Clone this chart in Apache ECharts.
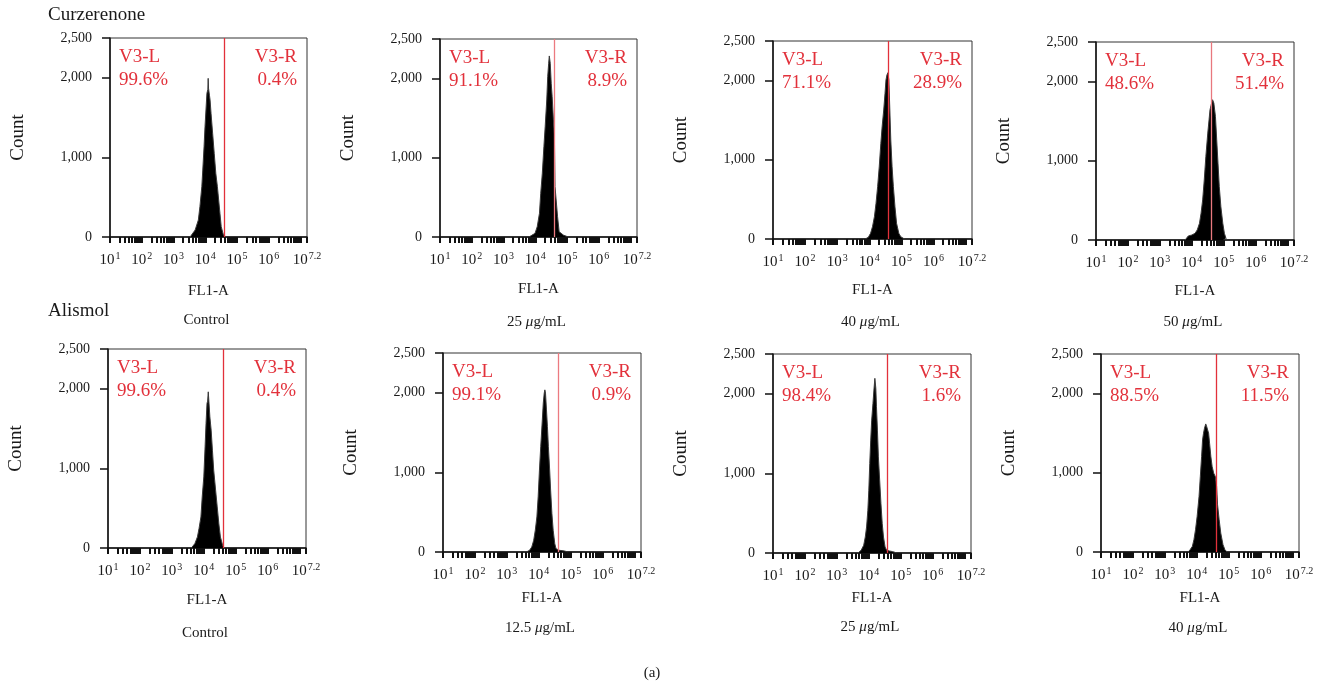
<!DOCTYPE html>
<html>
<head>
<meta charset="utf-8">
<script src="https://cdn.jsdelivr.net/npm/echarts@6/dist/echarts.min.js"></script>
<style>
html,body{margin:0;padding:0;background:#fff;}
#main{width:1320px;height:687px;}
</style>
</head>
<body>
<div id="main"></div>
<script>
// ---------------- data ----------------
const rowLabels = ['Curzerenone', 'Alismol'];
const conditions = ['Control', '25 μg/mL', '40 μg/mL', '50 μg/mL', 'Control', '12.5 μg/mL', '25 μg/mL', '40 μg/mL'];
const leftGateName = 'V3-L';
const rightGateName = 'V3-R';
const leftPct = ['99.6%', '91.1%', '71.1%', '48.6%', '99.6%', '99.1%', '98.4%', '88.5%'];
const rightPct = ['0.4%', '8.9%', '28.9%', '51.4%', '0.4%', '0.9%', '1.6%', '11.5%'];
const gateLog = [4.60, 4.59, 4.58, 4.62, 4.62, 4.60, 4.58, 4.61];   // log10(FL1-A) of gate
const xExpValues = [1, 2, 3, 4, 5, 6, 7.2];
const xExpLabels = ['1', '2', '3', '4', '5', '6', '7.2'];
const yTickValues = [0, 1000, 2000, 2500];
const yTickLabels = ['0', '1,000', '2,000', '2,500'];
const xTitle = 'FL1-A';
const yTitle = 'Count';
const figLabel = '(a)';

// histograms: [log10(FL1-A), count]
const histCurzCtrl = [[3.52,0],[3.55,12],[3.68,88],[3.78,213],[3.83,381],[3.89,632],[3.92,841],[3.96,1134],[3.99,1385],[4.02,1595],[4.05,1805],[4.08,1855],[4.09,1993],[4.10,1870],[4.13,1780],[4.15,1720],[4.18,1553],[4.23,1302],[4.28,1051],[4.33,800],[4.38,632],[4.42,465],[4.46,298],[4.50,130],[4.57,25],[4.62,4],[4.66,0]];
const histCurz25 = [[3.80,0],[3.83,4],[3.99,46],[4.06,130],[4.13,299],[4.17,552],[4.22,805],[4.27,1141],[4.31,1394],[4.36,1730],[4.39,2025],[4.42,2193],[4.44,2286],[4.47,2193],[4.50,1941],[4.53,1772],[4.57,1478],[4.60,1300],[4.62,636],[4.67,615],[4.70,257],[4.75,67],[4.88,25],[5.01,4],[5.05,0]];
const histCurz40 = [[3.87,0],[3.97,21],[4.04,72],[4.10,156],[4.16,282],[4.21,451],[4.26,661],[4.31,913],[4.36,1208],[4.40,1418],[4.45,1629],[4.49,1840],[4.52,2008],[4.55,2071],[4.58,2100],[4.61,2008],[4.64,1629],[4.67,1250],[4.71,913],[4.75,661],[4.80,408],[4.85,198],[4.92,72],[4.98,29],[5.08,4],[5.12,0]];
const histCurz50 = [[3.79,0],[3.89,51],[4.00,63],[4.10,84],[4.17,127],[4.24,211],[4.29,338],[4.34,506],[4.39,759],[4.44,1054],[4.50,1350],[4.54,1518],[4.57,1645],[4.62,1729],[4.65,1771],[4.69,1729],[4.74,1560],[4.78,1265],[4.82,970],[4.86,674],[4.91,421],[4.97,211],[5.02,84],[5.07,21],[5.11,0]];
const histAlisCtrl = [[3.61,0],[3.72,55],[3.80,139],[3.85,244],[3.91,390],[3.95,642],[4.00,893],[4.04,1271],[4.07,1565],[4.10,1817],[4.12,1845],[4.14,1962],[4.16,1837],[4.19,1648],[4.23,1481],[4.27,1229],[4.31,977],[4.37,726],[4.42,516],[4.47,307],[4.52,138],[4.59,34],[4.64,0]];
const histAlis12 = [[3.61,0],[3.71,21],[3.78,63],[3.84,147],[3.89,273],[3.94,441],[3.98,693],[4.02,1029],[4.06,1323],[4.11,1659],[4.14,1870],[4.17,1996],[4.19,2037],[4.21,1996],[4.24,1785],[4.27,1575],[4.30,1323],[4.34,1029],[4.37,777],[4.41,483],[4.45,273],[4.50,105],[4.54,42],[4.65,21],[4.80,13],[4.91,0]];
const histAlis25 = [[3.66,0],[3.76,34],[3.84,97],[3.89,201],[3.93,327],[3.97,537],[4.00,789],[4.03,1124],[4.06,1418],[4.09,1669],[4.13,1879],[4.16,2047],[4.19,2194],[4.22,2068],[4.24,1837],[4.27,1544],[4.30,1208],[4.34,915],[4.38,621],[4.42,370],[4.46,201],[4.51,75],[4.56,34],[4.65,25],[4.75,17],[4.88,0]];
const histAlis40 = [[3.73,0],[3.79,29],[3.86,71],[3.91,155],[3.96,281],[4.01,449],[4.07,701],[4.11,953],[4.15,1205],[4.18,1415],[4.21,1499],[4.24,1562],[4.28,1617],[4.31,1583],[4.34,1604],[4.37,1499],[4.40,1373],[4.44,1205],[4.48,1079],[4.53,995],[4.58,953],[4.62,827],[4.65,596],[4.70,407],[4.75,239],[4.82,92],[4.88,29],[4.95,0]];
const histograms = [histCurzCtrl, histCurz25, histCurz40, histCurz50, histAlisCtrl, histAlis12, histAlis25, histAlis40];

// ---------------- layout ----------------
const grids = [
  {left:110, top:38, width:197, height:199},
  {left:440, top:39, width:197, height:198},
  {left:773, top:41, width:199, height:198},
  {left:1096, top:42, width:198, height:198},
  {left:108, top:349, width:198, height:199},
  {left:443, top:353, width:198, height:199},
  {left:773, top:354, width:198, height:199},
  {left:1101, top:354, width:198, height:198}
];
const xNameGaps = [47, 45, 44, 44, 45, 39, 38, 39];
const captionY = [320, 322, 322, 322, 633, 628, 627, 628];
const rowLabelPos = [[48, 15], [48, 311]];
const gateColors = ['#e2313b', '#ec7a80', '#e2313b', '#e8787e', '#e2313b', '#ec7a80', '#e2313b', '#e2313b'];

const FONT = '"Liberation Serif", "Times New Roman", serif';
const RED = '#e2313b';
const INK = '#1a1a1a';

// minor/major log ticks positions (axis decoration)
const logTicks = [];
for (let d = 1; d <= 7; d++) {
  for (let k = 1; k <= 9; k++) {
    const v = d + Math.log10(k);
    if (v <= 7.2 + 1e-9) logTicks.push(+v.toFixed(4));
  }
}
logTicks.push(7.2);

function xLabelFmt(v) {
  let idx = 0, best = 1e9;
  xExpValues.forEach((e, i) => { const d = Math.abs(e - v); if (d < best) { best = d; idx = i; } });
  return '{b|10}{s|' + xExpLabels[idx] + '}';
}
function yLabelFmt(v) {
  const i = yTickValues.indexOf(v);
  return i >= 0 ? yTickLabels[i] : '';
}

const option = {
  backgroundColor: '#fff',
  animation: false,
  grid: grids.map(g => Object.assign({show: true, borderColor: '#333', borderWidth: 1, backgroundColor: 'transparent', containLabel: false}, g)),
  xAxis: grids.map((g, i) => ({
    type: 'value', gridIndex: i, min: 1, max: 7.2,
    name: xTitle, nameLocation: 'middle', nameGap: xNameGaps[i],
    nameTextStyle: {fontFamily: FONT, fontSize: 15, color: INK},
    axisLine: {show: true, onZero: false, lineStyle: {color: '#111', width: 1.5}},
    axisTick: {show: true, inside: false, length: 6, customValues: logTicks, lineStyle: {color: '#111', width: 2}},
    axisLabel: {
      show: true, margin: 14, customValues: xExpValues, formatter: xLabelFmt,
      rich: {
        b: {fontFamily: FONT, fontSize: 15, color: INK},
        s: {fontFamily: FONT, fontSize: 10, color: INK, padding: [0, 0, 8, 1]}
      }
    },
    splitLine: {show: false}
  })),
  yAxis: grids.map((g, i) => ({
    type: 'value', gridIndex: i, min: 0, max: 2500,
    name: yTitle, nameLocation: 'middle', nameGap: 82,
    nameTextStyle: {fontFamily: FONT, fontSize: 19, color: INK},
    axisLine: {show: true, lineStyle: {color: '#111', width: 1.5}},
    axisTick: {show: true, inside: false, length: 8, customValues: yTickValues, lineStyle: {color: '#111', width: 1.5}},
    axisLabel: {show: true, margin: 18, customValues: yTickValues, formatter: yLabelFmt, fontFamily: FONT, fontSize: 14, color: INK},
    splitLine: {show: false}
  })),
  series: histograms.map((h, i) => ({
    type: 'line', xAxisIndex: i, yAxisIndex: i, data: h,
    showSymbol: false, symbol: 'none', smooth: false,
    lineStyle: {color: '#3a3a3a', width: 1},
    areaStyle: {color: '#000', opacity: 1},
    z: 2,
    markLine: {
      silent: true, symbol: 'none', animation: false,
      label: {show: false},
      emphasis: {disabled: true},
      lineStyle: {color: gateColors[i], width: 1.3, type: 'solid', opacity: 1},
      data: [{xAxis: gateLog[i]}],
      z: 5
    }
  })),
  graphic: []
};

const gfx = [];
grids.forEach((g, i) => {
  const right = g.left + g.width;
  gfx.push({type: 'text', x: g.left + 9, y: g.top + 19, z: 10,
    style: {text: leftGateName, fill: RED, fontFamily: FONT, fontSize: 19, textAlign: 'left', textVerticalAlign: 'middle'}});
  gfx.push({type: 'text', x: g.left + 9, y: g.top + 42, z: 10,
    style: {text: leftPct[i], fill: RED, fontFamily: FONT, fontSize: 19, textAlign: 'left', textVerticalAlign: 'middle'}});
  gfx.push({type: 'text', x: right - 10, y: g.top + 19, z: 10,
    style: {text: rightGateName, fill: RED, fontFamily: FONT, fontSize: 19, textAlign: 'right', textVerticalAlign: 'middle'}});
  gfx.push({type: 'text', x: right - 10, y: g.top + 42, z: 10,
    style: {text: rightPct[i], fill: RED, fontFamily: FONT, fontSize: 19, textAlign: 'right', textVerticalAlign: 'middle'}});
  const cap = conditions[i].replace('μ', '{i|μ}');
  gfx.push({type: 'text', x: g.left + g.width / 2 - 2, y: captionY[i], z: 10,
    style: {text: cap, fill: INK, fontFamily: FONT, fontSize: 15, textAlign: 'center', textVerticalAlign: 'middle',
      rich: {i: {fontFamily: FONT, fontSize: 15, fontStyle: 'italic', fill: INK}}}});
});
rowLabels.forEach((t, i) => {
  gfx.push({type: 'text', x: rowLabelPos[i][0], y: rowLabelPos[i][1], z: 10,
    style: {text: t, fill: INK, fontFamily: FONT, fontSize: 19, textAlign: 'left', textVerticalAlign: 'middle'}});
});
gfx.push({type: 'text', x: 652, y: 673, z: 10,
  style: {text: figLabel, fill: INK, fontFamily: FONT, fontSize: 15, textAlign: 'center', textVerticalAlign: 'middle'}});
option.graphic = gfx;

const chart = echarts.init(document.getElementById('main'), null, {renderer: 'canvas'});
chart.setOption(option);
</script>
</body>
</html>
